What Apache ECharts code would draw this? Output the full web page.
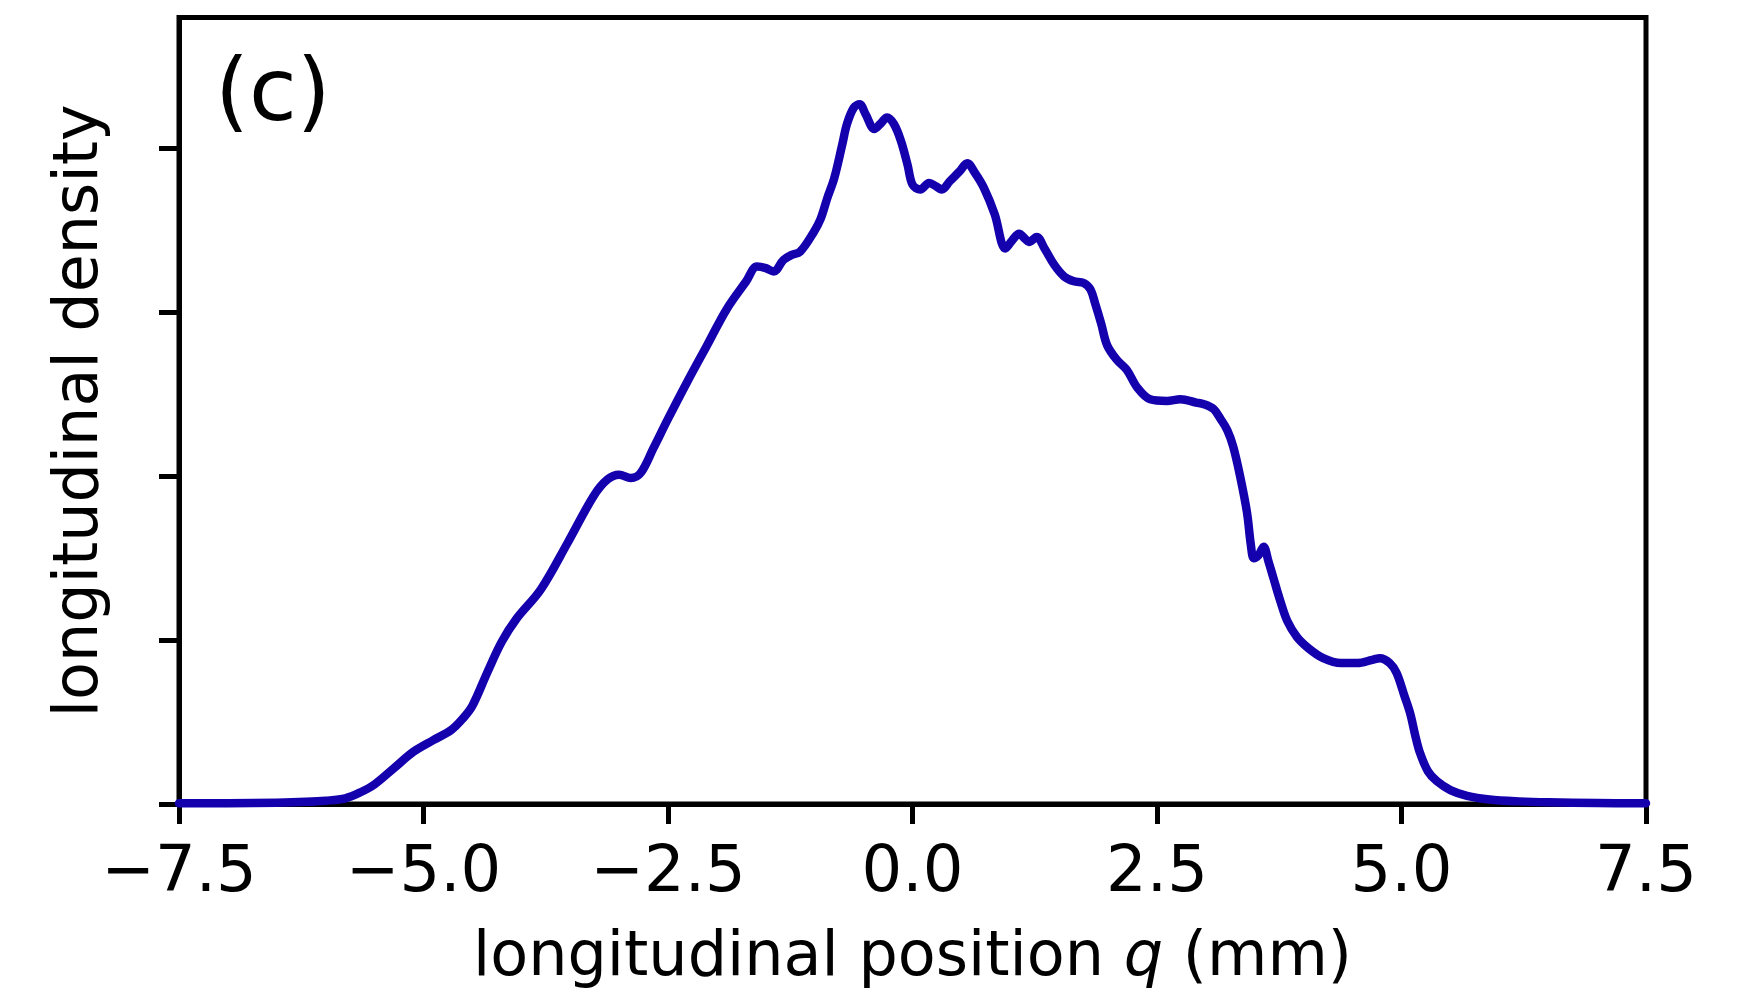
<!DOCTYPE html>
<html>
<head>
<meta charset="utf-8">
<script src="https://cdn.jsdelivr.net/npm/echarts@6/dist/echarts.min.js"></script>
<style>
html,body{margin:0;padding:0;background:#fff;}
#chart{width:1747px;height:995px;}
</style>
</head>
<body>
<div id="chart"></div>
<script>
var positions = [-7.5,-7.0,-6.5,-6.2,-6.0,-5.8,-5.65,-5.5,-5.3,-5.1,-4.9,-4.72,-4.6,-4.5,-4.35,-4.2,-4.05,-3.8,-3.53,-3.26,-3.12,-3.0,-2.88,-2.78,-2.65,-2.5,-2.3,-2.1,-1.9,-1.7,-1.59,-1.5,-1.42,-1.32,-1.24,-1.15,-1.01,-0.94,-0.87,-0.8,-0.72,-0.67,-0.6,-0.54,-0.48,-0.39,-0.33,-0.26,-0.19,-0.12,-0.05,0.0,0.08,0.17,0.24,0.3,0.38,0.48,0.56,0.64,0.73,0.84,0.95,1.02,1.09,1.15,1.19,1.27,1.35,1.45,1.55,1.65,1.75,1.82,1.87,1.93,1.99,2.09,2.19,2.3,2.43,2.6,2.74,2.9,2.98,3.08,3.15,3.22,3.28,3.35,3.42,3.46,3.49,3.54,3.59,3.64,3.69,3.76,3.83,3.93,4.05,4.2,4.38,4.55,4.7,4.78,4.88,4.95,5.03,5.09,5.14,5.19,5.27,5.36,5.5,5.67,5.9,6.2,6.5,7.0,7.5];
var density = [0.004,0.005,0.008,0.013,0.02,0.035,0.07,0.12,0.22,0.32,0.39,0.45,0.52,0.6,0.8,0.99,1.13,1.31,1.59,1.88,1.98,2.01,1.99,2.02,2.17,2.35,2.58,2.8,3.02,3.19,3.28,3.27,3.25,3.32,3.35,3.37,3.49,3.57,3.7,3.82,4.02,4.15,4.25,4.27,4.21,4.12,4.15,4.19,4.15,4.05,3.9,3.78,3.75,3.79,3.77,3.75,3.8,3.86,3.91,3.85,3.76,3.6,3.39,3.44,3.48,3.45,3.43,3.46,3.39,3.29,3.22,3.19,3.18,3.14,3.05,2.93,2.8,2.71,2.65,2.54,2.47,2.46,2.47,2.45,2.44,2.41,2.35,2.28,2.18,2.0,1.78,1.58,1.5,1.52,1.57,1.48,1.38,1.24,1.12,1.02,0.95,0.89,0.86,0.86,0.88,0.89,0.86,0.8,0.66,0.55,0.42,0.31,0.2,0.14,0.085,0.05,0.028,0.016,0.01,0.006,0.004];
var yTickValues = [0, 1, 2, 3, 4];
var panelLabel = '(c)';
var xTitle = 'longitudinal position {i|q} (mm)';
var yTitle = 'longitudinal density';

var seriesData = positions.map(function (q, i) { return [q, density[i]]; });
var FONT = 'DejaVu Sans';
var chart = echarts.init(document.getElementById('chart'), null, {renderer: 'canvas'});
chart.setOption({
  animation: false,
  backgroundColor: '#fff',
  grid: {left: 179, right: 101, top: 17.5, bottom: 190.5, show: true, borderColor: '#000', borderWidth: 5, backgroundColor: 'transparent'},
  xAxis: {
    type: 'value', min: -7.5, max: 7.5, interval: 2.5,
    axisLine: {show: true, onZero: false, lineStyle: {color: '#000', width: 5}},
    axisTick: {show: true, length: 20, lineStyle: {color: '#000', width: 5}},
    axisLabel: {margin: 38, color: '#000', fontFamily: FONT, fontSize: 64,
      formatter: function (v) { return v.toFixed(1).replace('-', '\u2212'); }},
    splitLine: {show: false},
    name: xTitle, nameLocation: 'middle', nameGap: 124,
    nameTextStyle: {color: '#000', fontFamily: FONT, fontSize: 62,
      rich: {i: {fontStyle: 'italic', fontFamily: FONT, fontSize: 62, color: '#000'}}}
  },
  yAxis: {
    type: 'value', min: 0, max: 4.8,
    axisLine: {show: true, onZero: false, lineStyle: {color: '#000', width: 5}},
    axisTick: {show: true, length: 20, customValues: yTickValues, lineStyle: {color: '#000', width: 5}},
    axisLabel: {show: false},
    splitLine: {show: false},
    name: yTitle, nameLocation: 'middle', nameGap: 67, nameRotate: 90,
    nameTextStyle: {color: '#000', fontFamily: FONT, fontSize: 62}
  },
  graphic: [{
    type: 'text', left: 215, top: 54,
    style: {text: panelLabel, font: '87px "DejaVu Sans"', fill: '#000'}
  }],
  series: [{
    type: 'line', data: seriesData, showSymbol: false, smooth: 0.35,
    lineStyle: {color: '#1500ad', width: 8.5, join: 'round', cap: 'round'}, clip: true
  }]
});
</script>
</body>
</html>
